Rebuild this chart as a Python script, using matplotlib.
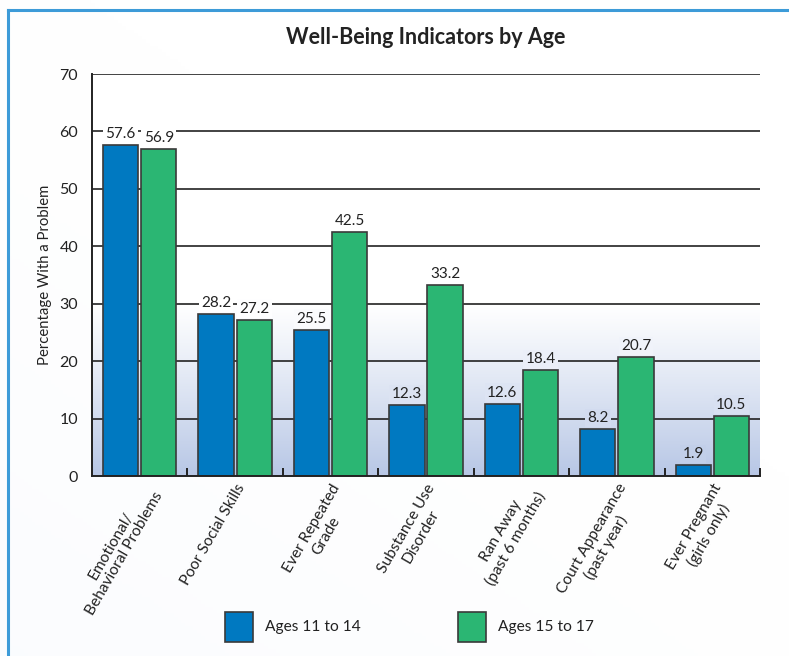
import numpy as np
import matplotlib.pyplot as plt
from matplotlib.patches import Rectangle
from matplotlib.lines import Line2D

plt.rcParams['font.family'] = ['Lato', 'DejaVu Sans']

# data
categories = ['Emotional/\nBehavioral Problems', 'Poor Social Skills', 'Ever Repeated\nGrade',
              'Substance Use\nDisorder', 'Ran Away\n(past 6 months)', 'Court Appearance\n(past year)',
              'Ever Pregnant\n(girls only)']
ages_11_14 = [57.6, 28.2, 25.5, 12.3, 12.6, 8.2, 1.9]
ages_15_17 = [56.9, 27.2, 42.5, 33.2, 18.4, 20.7, 10.5]
series_names = ['Ages 11 to 14', 'Ages 15 to 17']
yticks = [0, 10, 20, 30, 40, 50, 60, 70]

blue = '#0079c1'
green = '#2bb673'
edge = '#3a3a3a'
ink = '#222222'
grad_bottom = np.array([0.72, 0.78, 0.90])

W, H = 789, 656
fig = plt.figure(figsize=(W / 100, H / 100), dpi=100)

# figure background: faint diagonal wash + blue frame on left/top
bg = fig.add_axes([0, 0, 1, 1], zorder=-10)
xx, yy = np.meshgrid(np.linspace(0, 1, 200), np.linspace(0, 1, 200))
t = np.clip(1.0 - (xx * 0.9 + yy * 1.1) / 1.2, 0, 1) ** 1.3
img = np.ones((200, 200, 3)) * (1 - t[..., None] * 0.09) + t[..., None] * 0.09 * np.array([0.82, 0.87, 0.96])
bg.imshow(img, extent=[0, 1, 0, 1], origin='lower', aspect='auto')
bg.add_line(Line2D([8 / W, 8 / W], [0, 1 - 10 / H], color='#3d9bd8', lw=2.2))
bg.add_line(Line2D([8 / W, 1], [1 - 10 / H, 1 - 10 / H], color='#3d9bd8', lw=2.2))
bg.set_xlim(0, 1)
bg.set_ylim(0, 1)
bg.axis('off')

ax = fig.add_axes([92 / W, 1 - 476 / H, (760 - 92) / W, (476 - 74) / H])
ax.set_xlim(-0.5, len(categories) - 0.5)
ax.set_ylim(0, 70)

# plot-area gradient: white above 30, light blue at bottom
def grad_color(v):
    f = np.clip((30 - v) / 30, 0, 1) ** 1.1
    return tuple(1 - f * (1 - grad_bottom))

vals = np.linspace(0, 70, 300)
col = np.array([grad_color(v) for v in vals])[:, None, :]
ax.imshow(col, extent=[-0.5, len(categories) - 0.5, 0, 70], origin='lower', aspect='auto', zorder=0)

for y in yticks[1:]:
    ax.axhline(y, color=ink, lw=1.2, zorder=1)

x = np.arange(len(categories))
bw = 0.37
b1 = ax.bar(x - 0.2, ages_11_14, bw, color=blue, edgecolor=edge, lw=1.2, zorder=2)
b2 = ax.bar(x + 0.2, ages_15_17, bw, color=green, edgecolor=edge, lw=1.2, zorder=2)

for bars, vals_ in ((b1, ages_11_14), (b2, ages_15_17)):
    for b, v in zip(bars, vals_):
        ax.text(b.get_x() + b.get_width() / 2, v + 0.7, f'{v}', ha='center', va='bottom',
                fontsize=11, color=ink, zorder=3,
                bbox=dict(boxstyle='square,pad=0.15', fc=grad_color(v + 2), ec='none'))

ax.spines['right'].set_visible(False)
ax.spines['top'].set_visible(False)
for s in ('left', 'bottom'):
    ax.spines[s].set_linewidth(1.4)
    ax.spines[s].set_color(ink)
    ax.spines[s].set_zorder(4)

ax.set_yticks(yticks)
ax.set_yticklabels([str(v) for v in yticks], fontsize=11.5, color=ink)
ax.tick_params(axis='y', length=0, pad=10)

# group separator ticks pointing up
ax.set_xticks(np.arange(len(categories)) + 0.5, minor=True)
ax.tick_params(axis='x', which='minor', direction='in', length=6, width=1.4, color=ink)
ax.set_xticks(x)
ax.set_xticklabels(categories, rotation=60, ha='right', rotation_mode='anchor',
                   multialignment='center', fontsize=11.2, color=ink)
ax.tick_params(axis='x', which='major', length=0, pad=4)

ax.set_ylabel('Percentage With a Problem', fontsize=10.7, color=ink, labelpad=5)
fig.text(0.54, 1 - 38 / H, 'Well-Being Indicators by Age', ha='center', va='center',
         fontsize=15.5, fontweight='bold', color=ink)

# legend
lax = fig.add_axes([0, 0, 1, 1], zorder=5)
lax.set_xlim(0, W)
lax.set_ylim(H, 0)
lax.axis('off')
for xs, c, name in ((225, blue, series_names[0]), (458, green, series_names[1])):
    lax.add_patch(Rectangle((xs, 612), 28, 30, fc=c, ec=edge, lw=1.2))
    lax.text(xs + 40, 627, name, va='center', ha='left', fontsize=11.2, color=ink)

fig.savefig('out.png', dpi=100)
